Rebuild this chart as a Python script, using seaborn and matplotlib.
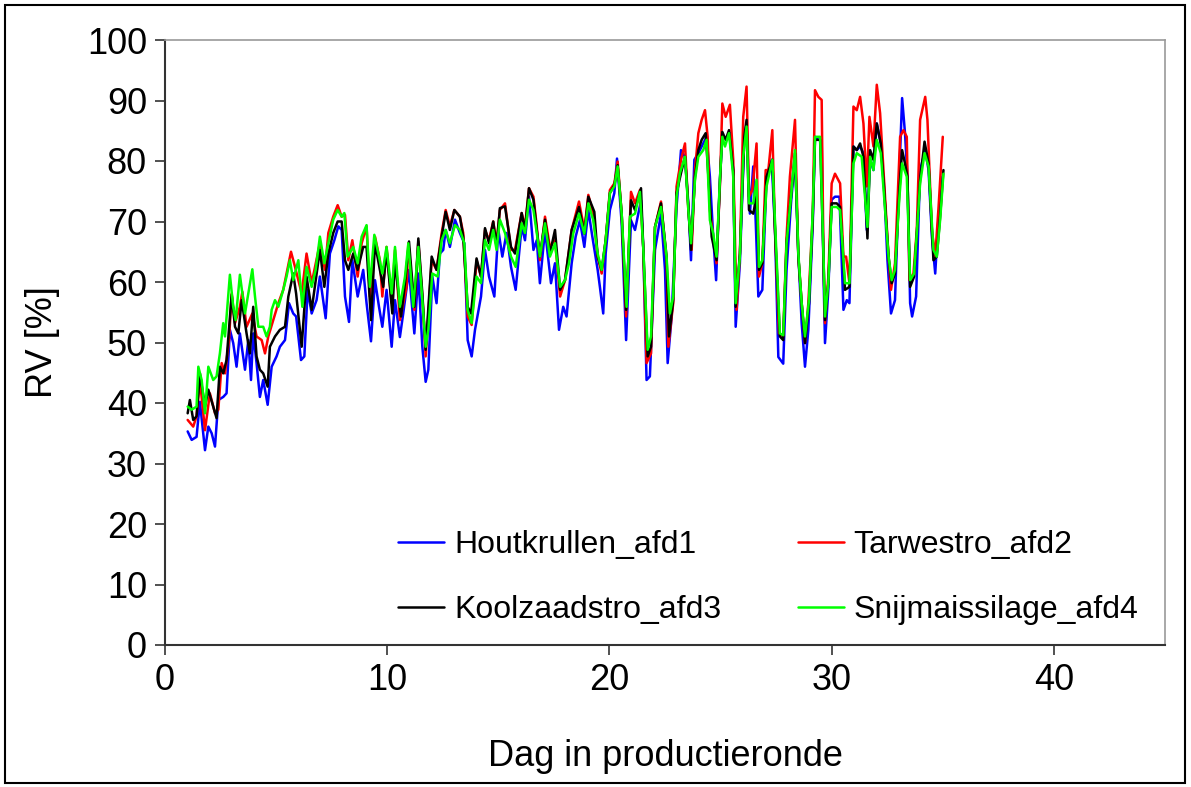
import matplotlib
matplotlib.use("Agg")
import matplotlib.pyplot as plt
import seaborn as sns
import pandas as pd
from matplotlib.patches import Rectangle

# ---- data: (day, RV %) ----
houtkrullen = [
    (1.02, 35.3), (1.20, 33.9), (1.42, 34.4), (1.57, 40.2), (1.80, 32.2), (1.95, 36.1), (2.10, 35.0),
    (2.25, 32.8), (2.40, 40.5), (2.62, 41.0), (2.77, 41.6), (2.92, 52.1), (3.07, 49.9), (3.22, 46.0),
    (3.37, 51.5), (3.60, 45.5), (3.75, 50.4), (3.87, 43.8), (3.97, 51.5), (4.12, 46.6), (4.27, 41.0),
    (4.42, 43.8), (4.62, 39.7), (4.80, 46.0), (5.02, 47.7), (5.17, 49.3), (5.40, 50.4), (5.58, 56.5),
    (5.77, 54.8), (5.90, 54.3), (6.12, 47.1), (6.27, 47.7), (6.42, 58.7), (6.60, 54.8), (6.82, 57.0),
    (6.97, 60.9), (7.23, 54.0), (7.42, 64.7), (7.62, 66.9), (7.80, 69.2), (7.95, 68.6), (8.10, 57.6),
    (8.28, 53.4), (8.43, 63.6), (8.67, 57.6), (8.92, 62.0), (9.07, 56.5), (9.27, 50.2), (9.45, 60.3),
    (9.63, 55.9), (9.78, 52.6), (9.97, 58.7), (10.20, 49.3), (10.35, 57.0), (10.57, 50.9), (10.72, 54.8),
    (10.98, 62.0), (11.22, 51.5), (11.40, 61.4), (11.58, 49.3), (11.73, 43.5), (11.85, 45.5), (12.03, 60.9),
    (12.22, 56.5), (12.37, 64.7), (12.52, 65.3), (12.63, 68.6), (12.82, 65.8), (13.05, 70.3), (13.27, 68.1),
    (13.47, 66.4), (13.62, 50.4), (13.80, 47.7), (13.95, 52.1), (14.22, 57.6), (14.40, 65.3), (14.58, 60.9),
    (14.82, 57.6), (15.00, 68.6), (15.18, 64.2), (15.37, 68.1), (15.57, 62.5), (15.78, 58.7), (16.05, 69.2),
    (16.20, 66.9), (16.38, 74.1), (16.58, 65.3), (16.73, 66.9), (16.87, 59.8), (17.10, 68.6), (17.37, 59.8),
    (17.55, 63.1), (17.73, 52.1), (17.92, 55.9), (18.07, 54.3), (18.30, 63.1), (18.48, 67.5), (18.67, 70.2),
    (18.87, 65.8), (19.05, 71.9), (19.23, 67.5), (19.47, 62.0), (19.57, 59.2), (19.72, 54.8), (19.83, 64.7),
    (20.02, 71.9), (20.22, 74.7), (20.34, 80.4), (20.55, 69.7), (20.75, 50.4), (20.97, 70.2), (21.15, 68.6),
    (21.42, 73.5), (21.52, 65.8), (21.67, 43.8), (21.82, 44.4), (22.05, 65.3), (22.32, 71.3), (22.50, 62.0),
    (22.62, 46.6), (22.80, 54.3), (23.02, 72.4), (23.22, 81.8), (23.40, 80.7), (23.55, 73.0), (23.67, 63.6),
    (23.82, 80.2), (24.00, 81.3), (24.22, 82.9), (24.37, 84.0), (24.52, 77.4), (24.67, 67.5), (24.80, 60.3),
    (24.97, 76.9), (25.08, 84.3), (25.27, 83.5), (25.42, 84.6), (25.57, 78.5), (25.68, 52.6), (25.87, 63.1),
    (26.07, 84.0), (26.17, 86.2), (26.32, 71.3), (26.47, 79.1), (26.58, 70.2), (26.70, 57.6), (26.88, 58.7),
    (27.07, 77.4), (27.30, 80.2), (27.45, 68.6), (27.60, 47.6), (27.82, 46.5), (27.97, 62.0), (28.17, 73.0),
    (28.35, 80.7), (28.50, 64.7), (28.65, 53.2), (28.80, 46.0), (28.95, 52.1), (29.15, 69.7), (29.25, 84.0),
    (29.40, 83.5), (29.55, 83.5), (29.63, 62.0), (29.70, 49.9), (29.85, 58.7), (30.00, 73.6), (30.15, 74.1),
    (30.35, 74.1), (30.53, 55.4), (30.68, 57.0), (30.80, 56.5), (30.98, 82.4), (31.13, 81.8), (31.28, 82.4),
    (31.43, 81.3), (31.58, 68.6), (31.73, 80.2), (31.88, 78.5), (32.03, 86.2), (32.21, 82.9), (32.36, 75.8),
    (32.51, 63.6), (32.67, 54.8), (32.85, 57.0), (33.05, 78.5), (33.17, 90.4), (33.30, 84.6), (33.41, 77.4),
    (33.53, 56.5), (33.62, 54.3), (33.80, 57.6), (33.98, 78.5), (34.21, 81.8), (34.36, 78.5), (34.51, 67.5),
    (34.66, 61.4), (34.81, 70.8), (35.00, 77.4),
]

tarwestro = [
    (1.02, 37.2), (1.27, 36.1), (1.42, 37.8), (1.57, 43.8), (1.80, 35.5), (2.02, 41.6), (2.25, 38.3),
    (2.40, 38.9), (2.55, 46.6), (2.70, 44.9), (2.88, 50.4), (3.00, 58.1), (3.15, 53.2), (3.37, 55.9),
    (3.48, 58.4), (3.67, 52.6), (3.93, 54.8), (4.12, 51.0), (4.35, 50.4), (4.50, 48.2), (4.65, 51.0),
    (4.87, 53.7), (5.10, 56.5), (5.32, 58.7), (5.47, 61.4), (5.67, 65.0), (5.85, 62.5), (6.15, 58.1),
    (6.37, 64.7), (6.60, 59.8), (6.97, 66.4), (7.20, 62.0), (7.35, 68.1), (7.57, 70.8), (7.77, 72.7),
    (7.95, 70.8), (8.10, 71.1), (8.25, 63.6), (8.43, 66.9), (8.67, 60.9), (8.85, 66.4), (9.07, 69.2),
    (9.22, 57.6), (9.45, 67.5), (9.67, 63.6), (9.78, 57.6), (9.97, 65.8), (10.20, 56.5), (10.35, 65.3),
    (10.57, 53.7), (10.87, 59.2), (10.95, 66.4), (11.22, 55.4), (11.40, 66.7), (11.62, 55.4), (11.73, 47.7),
    (12.00, 63.6), (12.22, 62.0), (12.45, 68.1), (12.63, 71.9), (12.82, 69.2), (13.02, 71.9), (13.27, 70.8),
    (13.42, 68.1), (13.62, 54.3), (13.80, 52.9), (14.02, 63.6), (14.22, 60.9), (14.40, 68.6), (14.58, 66.9),
    (14.77, 70.0), (14.92, 66.4), (15.07, 71.9), (15.30, 73.0), (15.57, 65.3), (15.75, 65.3), (16.05, 71.4),
    (16.20, 69.2), (16.38, 75.5), (16.58, 74.1), (16.73, 69.2), (16.87, 63.6), (17.10, 70.8), (17.32, 65.8),
    (17.55, 66.9), (17.78, 57.6), (18.00, 60.3), (18.30, 68.6), (18.63, 73.3), (18.87, 68.6), (19.05, 74.4),
    (19.27, 71.3), (19.47, 64.2), (19.65, 61.4), (19.83, 66.9), (20.02, 75.2), (20.22, 76.3), (20.37, 79.9),
    (20.55, 71.3), (20.75, 54.3), (20.97, 74.9), (21.15, 73.0), (21.37, 75.2), (21.52, 65.8), (21.67, 46.6),
    (21.87, 48.2), (22.05, 69.1), (22.32, 73.3), (22.57, 63.6), (22.65, 49.3), (22.87, 56.5), (23.02, 75.8),
    (23.22, 80.2), (23.40, 82.9), (23.55, 71.9), (23.70, 65.3), (23.85, 78.5), (24.00, 84.6), (24.15, 86.8),
    (24.30, 88.4), (24.42, 84.0), (24.52, 71.9), (24.67, 67.5), (24.82, 63.1), (24.97, 75.8), (25.08, 89.5),
    (25.23, 87.3), (25.42, 89.3), (25.57, 80.2), (25.72, 55.4), (25.87, 64.7), (26.02, 87.3), (26.17, 92.3),
    (26.28, 74.1), (26.43, 75.2), (26.62, 82.9), (26.73, 60.9), (26.88, 63.1), (27.03, 78.5), (27.15, 78.5),
    (27.33, 85.1), (27.45, 68.6), (27.63, 51.5), (27.82, 51.0), (27.97, 67.5), (28.12, 77.4), (28.35, 86.8),
    (28.50, 64.2), (28.65, 56.5), (28.80, 49.9), (28.95, 56.5), (29.15, 71.3), (29.25, 91.7), (29.40, 90.6),
    (29.55, 90.1), (29.63, 64.7), (29.70, 53.2), (29.85, 60.9), (30.00, 76.3), (30.15, 77.9), (30.38, 76.3),
    (30.53, 64.2), (30.65, 64.2), (30.80, 59.8), (30.98, 89.0), (31.13, 88.4), (31.28, 90.6), (31.43, 86.2),
    (31.58, 75.8), (31.70, 87.3), (31.88, 82.4), (32.03, 92.6), (32.18, 87.9), (32.33, 78.5), (32.56, 64.2),
    (32.67, 58.7), (32.85, 63.1), (33.08, 84.0), (33.23, 85.1), (33.38, 84.0), (33.50, 60.3), (33.68, 61.4),
    (33.83, 68.6), (33.98, 86.8), (34.21, 90.6), (34.31, 86.8), (34.51, 68.6), (34.66, 64.2), (34.81, 72.4),
    (35.00, 84.0),
]

koolzaadstro = [
    (1.02, 38.3), (1.12, 40.5), (1.27, 37.2), (1.42, 37.8), (1.57, 44.9), (1.80, 39.4), (1.95, 42.2),
    (2.17, 39.4), (2.32, 37.5), (2.47, 46.0), (2.62, 44.9), (2.77, 47.1), (3.00, 57.9), (3.15, 52.6),
    (3.30, 51.5), (3.45, 57.0), (3.67, 51.5), (3.82, 48.2), (3.97, 55.9), (4.12, 47.7), (4.27, 45.5),
    (4.42, 44.9), (4.62, 42.7), (4.72, 49.3), (4.95, 51.0), (5.17, 52.1), (5.40, 52.6), (5.55, 57.6),
    (5.77, 61.4), (5.90, 58.1), (6.15, 49.3), (6.37, 60.9), (6.60, 55.4), (6.97, 65.3), (7.17, 59.2),
    (7.35, 64.7), (7.57, 68.1), (7.77, 70.0), (7.95, 70.0), (8.10, 63.6), (8.25, 62.0), (8.47, 64.7),
    (8.67, 62.0), (8.92, 65.8), (9.07, 65.8), (9.27, 53.7), (9.45, 66.4), (9.67, 62.0), (9.82, 59.2),
    (9.97, 65.3), (10.23, 54.8), (10.35, 63.6), (10.62, 54.3), (10.80, 59.8), (10.98, 66.7), (11.22, 55.9),
    (11.40, 67.2), (11.58, 58.1), (11.73, 48.8), (12.00, 64.2), (12.22, 62.0), (12.45, 67.5), (12.63, 71.6),
    (12.82, 68.6), (13.02, 71.9), (13.27, 70.8), (13.42, 67.5), (13.62, 55.9), (13.77, 54.8), (14.02, 63.9),
    (14.22, 60.9), (14.40, 68.9), (14.58, 66.4), (14.77, 70.0), (14.92, 65.8), (15.07, 72.2), (15.30, 72.5),
    (15.57, 65.8), (15.75, 64.7), (16.05, 71.4), (16.20, 68.6), (16.38, 75.5), (16.58, 73.6), (16.73, 68.6),
    (16.87, 64.2), (17.10, 70.3), (17.32, 64.7), (17.55, 68.6), (17.78, 58.7), (18.00, 60.3), (18.30, 68.6),
    (18.63, 72.4), (18.87, 68.0), (19.05, 74.1), (19.32, 71.6), (19.47, 64.2), (19.65, 62.0), (19.83, 66.9),
    (20.02, 74.7), (20.22, 76.0), (20.37, 79.3), (20.55, 71.3), (20.75, 55.4), (20.97, 73.5), (21.15, 71.9),
    (21.42, 75.5), (21.52, 65.8), (21.72, 47.7), (21.87, 49.3), (22.05, 69.1), (22.32, 73.0), (22.57, 64.2),
    (22.68, 51.0), (22.87, 57.0), (23.02, 74.7), (23.22, 78.0), (23.40, 80.7), (23.55, 72.4), (23.67, 65.3),
    (23.85, 77.4), (24.00, 81.8), (24.15, 83.5), (24.33, 84.6), (24.48, 75.8), (24.60, 67.5), (24.82, 63.6),
    (24.97, 76.3), (25.08, 84.8), (25.23, 83.5), (25.38, 85.1), (25.57, 78.5), (25.68, 55.9), (25.87, 64.7),
    (26.07, 84.0), (26.17, 86.8), (26.28, 71.9), (26.47, 71.3), (26.62, 74.1), (26.73, 62.0), (26.88, 63.1),
    (27.07, 77.4), (27.33, 80.2), (27.45, 68.6), (27.67, 51.0), (27.82, 50.4), (27.97, 66.4), (28.17, 74.1),
    (28.35, 81.3), (28.50, 64.2), (28.65, 56.5), (28.80, 49.9), (28.98, 56.5), (29.15, 70.8), (29.25, 83.5),
    (29.48, 83.5), (29.63, 64.2), (29.70, 53.7), (29.85, 59.8), (30.00, 73.0), (30.23, 73.0), (30.38, 72.4),
    (30.60, 58.7), (30.80, 59.2), (30.98, 82.4), (31.13, 81.8), (31.28, 82.9), (31.43, 80.7), (31.61, 67.2),
    (31.73, 81.8), (31.88, 80.2), (32.03, 86.2), (32.21, 82.9), (32.36, 75.2), (32.56, 64.2), (32.70, 59.8),
    (32.85, 61.4), (33.05, 75.2), (33.17, 81.8), (33.30, 79.6), (33.41, 77.4), (33.53, 59.2), (33.71, 60.9),
    (33.98, 76.9), (34.18, 83.2), (34.36, 79.6), (34.58, 63.6), (34.73, 64.2), (34.88, 70.8), (35.03, 78.5),
]

snijmaissilage = [
    (1.02, 39.4), (1.20, 38.9), (1.42, 39.4), (1.50, 46.0), (1.65, 43.8), (1.80, 38.3), (1.95, 46.0),
    (2.17, 43.8), (2.32, 44.4), (2.47, 48.2), (2.62, 53.2), (2.70, 51.0), (2.92, 61.2), (3.07, 55.9),
    (3.18, 53.7), (3.37, 61.2), (3.60, 54.8), (3.75, 58.1), (3.93, 62.1), (4.05, 57.6), (4.20, 52.6),
    (4.42, 52.6), (4.57, 51.0), (4.72, 52.6), (4.80, 55.4), (4.95, 57.0), (5.10, 55.9), (5.32, 58.7),
    (5.47, 60.9), (5.62, 63.6), (5.77, 60.3), (6.00, 63.6), (6.18, 55.9), (6.37, 62.5), (6.60, 59.2),
    (6.78, 62.0), (6.97, 67.5), (7.17, 63.1), (7.35, 66.4), (7.57, 70.3), (7.77, 71.9), (7.95, 70.8),
    (8.07, 71.4), (8.22, 64.2), (8.47, 65.8), (8.67, 63.1), (8.85, 67.5), (9.07, 69.4), (9.22, 59.2),
    (9.42, 67.8), (9.63, 64.2), (9.78, 61.4), (9.97, 65.8), (10.20, 58.1), (10.35, 65.8), (10.57, 55.9),
    (10.80, 60.9), (10.95, 66.4), (11.17, 55.9), (11.40, 65.8), (11.58, 57.0), (11.73, 49.3), (11.85, 52.1),
    (12.03, 61.4), (12.27, 60.9), (12.45, 66.9), (12.63, 68.6), (12.82, 66.4), (13.05, 69.4), (13.27, 68.6),
    (13.47, 66.4), (13.62, 55.4), (13.80, 53.2), (14.02, 60.9), (14.22, 59.8), (14.40, 66.9), (14.58, 65.3),
    (14.77, 68.6), (14.92, 65.3), (15.07, 70.3), (15.30, 68.1), (15.57, 64.2), (15.78, 62.5), (16.05, 69.7),
    (16.20, 68.1), (16.38, 73.6), (16.58, 71.9), (16.73, 68.1), (16.87, 64.2), (17.10, 69.7), (17.32, 64.2),
    (17.55, 66.4), (17.78, 59.2), (18.00, 60.3), (18.18, 63.1), (18.37, 68.0), (18.63, 71.3), (18.87, 68.0),
    (19.05, 73.0), (19.27, 70.2), (19.47, 64.7), (19.65, 62.0), (19.83, 66.9), (20.02, 74.7), (20.22, 75.8),
    (20.37, 79.1), (20.55, 71.3), (20.77, 55.9), (20.92, 70.8), (21.15, 71.3), (21.37, 74.9), (21.52, 65.8),
    (21.72, 48.8), (21.87, 51.0), (22.05, 69.1), (22.32, 72.4), (22.57, 64.2), (22.72, 54.8), (22.87, 57.6),
    (23.02, 74.1), (23.17, 78.0), (23.40, 80.7), (23.55, 71.9), (23.67, 66.4), (23.85, 76.9), (24.00, 80.7),
    (24.22, 81.8), (24.37, 83.5), (24.52, 70.2), (24.67, 68.0), (24.82, 64.2), (24.97, 76.9), (25.08, 84.0),
    (25.20, 82.4), (25.38, 84.6), (25.57, 77.4), (25.68, 56.5), (25.87, 64.2), (26.02, 80.7), (26.17, 85.7),
    (26.28, 73.0), (26.47, 73.0), (26.62, 76.9), (26.73, 62.5), (26.88, 63.6), (27.07, 75.8), (27.33, 80.2),
    (27.45, 70.2), (27.67, 51.5), (27.82, 51.2), (27.97, 66.4), (28.17, 74.1), (28.35, 81.8), (28.50, 64.7),
    (28.65, 56.5), (28.80, 51.0), (28.98, 57.0), (29.15, 71.9), (29.25, 84.0), (29.48, 84.0), (29.63, 64.7),
    (29.70, 54.3), (29.85, 59.8), (30.00, 72.4), (30.23, 72.4), (30.38, 71.9), (30.60, 59.8), (30.80, 59.8),
    (30.98, 79.6), (31.13, 81.3), (31.35, 80.7), (31.61, 69.1), (31.73, 80.7), (31.88, 78.5), (32.03, 83.5),
    (32.21, 81.3), (32.36, 74.1), (32.56, 64.2), (32.70, 60.3), (32.85, 62.0), (33.05, 74.1), (33.17, 79.6),
    (33.38, 77.4), (33.53, 60.3), (33.71, 61.4), (33.98, 76.3), (34.18, 81.3), (34.36, 79.1), (34.58, 65.3),
    (34.73, 64.2), (34.88, 70.2), (35.03, 77.9),
]

series_names = ["Houtkrullen_afd1", "Tarwestro_afd2", "Koolzaadstro_afd3", "Snijmaissilage_afd4"]
series_data = [houtkrullen, tarwestro, koolzaadstro, snijmaissilage]
series_colors = ["#0000FF", "#FF0000", "#000000", "#00FF00"]

x_ticks = [0, 10, 20, 30, 40]
y_ticks = [0, 10, 20, 30, 40, 50, 60, 70, 80, 90, 100]

frames = []
for name, pts in zip(series_names, series_data):
    frames.append(pd.DataFrame({"dag": [p[0] for p in pts], "rv": [p[1] for p in pts], "serie": name}))
df = pd.concat(frames, ignore_index=True)

sns.set_style("white")
plt.rcParams["font.family"] = ["Liberation Sans", "DejaVu Sans"]
plt.rcParams["text.color"] = "black"
plt.rcParams["axes.labelcolor"] = "black"
plt.rcParams["xtick.color"] = "black"
plt.rcParams["ytick.color"] = "black"

fig = plt.figure(figsize=(11.91, 7.87), dpi=100)
ax = fig.add_axes([165 / 1191, (787 - 645) / 787, 1000 / 1191, 605 / 787])

sns.lineplot(data=df, x="dag", y="rv", hue="serie", hue_order=series_names,
             palette=dict(zip(series_names, series_colors)), estimator=None,
             linewidth=1.8, ax=ax)

ax.set_xlim(0, 45)
ax.set_ylim(0, 100)
ax.set_xticks(x_ticks)
ax.set_yticks(y_ticks)
ax.tick_params(axis="both", labelsize=26, direction="out", length=7, width=1.2,
               color="#333333", labelcolor="black", pad=6, bottom=True, left=True)

for side in ["left", "bottom"]:
    ax.spines[side].set_color("#333333")
    ax.spines[side].set_linewidth(1.5)
for side in ["top", "right"]:
    ax.spines[side].set_color("#9a9a9a")
    ax.spines[side].set_linewidth(1.2)

ax.set_xlabel("Dag in productieronde", fontsize=26, color="black")
ax.set_ylabel("RV [%]", fontsize=26, color="black")
ax.xaxis.set_label_coords(0.5, -0.155)
ax.yaxis.set_label_coords(-0.105, 0.5)

handles, labels = ax.get_legend_handles_labels()
hmap = dict(zip(labels, handles))
order = ["Houtkrullen_afd1", "Koolzaadstro_afd3", "Tarwestro_afd2", "Snijmaissilage_afd4"]
ax.get_legend().remove()
ax.legend([hmap[k] for k in order], order, loc="upper left", bbox_to_anchor=(0.233, 0.19), ncol=2,
          frameon=False, fontsize=23, handlelength=1.45, handletextpad=0.3,
          columnspacing=2.4, labelspacing=1.1, borderpad=0, borderaxespad=0)

fig.add_artist(Rectangle((5 / 1191, 4 / 787), 1180 / 1191, 778 / 787, transform=fig.transFigure,
                         fill=False, edgecolor="black", linewidth=1.5))

fig.savefig("out.png", dpi=100)
